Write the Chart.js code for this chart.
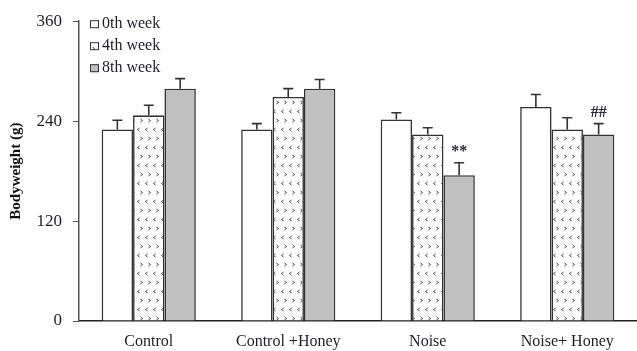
<!DOCTYPE html>
<html>
<head>
<meta charset="utf-8">
<script src="https://cdn.jsdelivr.net/npm/chart.js@4/dist/chart.umd.min.js"></script>
<style>
html,body{margin:0;padding:0;background:#fff;}
#wrap{width:637px;height:351px;}
</style>
</head>
<body>
<div id="wrap"><canvas id="c" width="637" height="351"></canvas></div>
<script>
const categories = ["Control", "Control +Honey", "Noise", "Noise+ Honey"];
const seriesNames = ["0th week", "4th week", "8th week"];
const week0 = [230, 230, 242, 257];
const week4 = [247, 269, 224, 230];
const week8 = [279, 279, 175, 224];
const err0 = [11, 7, 8, 15];
const err4 = [12, 10, 8, 14];
const err8 = [12, 11, 15, 13];
const yTicks = [0, 120, 240, 360];
const yTitle = "Bodyweight (g)";
// annotations: [datasetIndex, categoryIndex, text]
const marks = [[2, 2, "**"], [2, 3, "##"]];

const FONT = "'Liberation Serif', 'Times New Roman', serif";
const INK = "#1e1e2a";

function makePattern() {
  const t = document.createElement('canvas');
  t.width = 8; t.height = 18;
  const g = t.getContext('2d');
  g.fillStyle = '#fff';
  g.fillRect(0, 0, 8, 18);
  g.strokeStyle = '#444';
  g.lineWidth = 1;
  g.beginPath();
  // "<"
  g.moveTo(3.5, 2); g.lineTo(1.5, 3.5); g.lineTo(3.5, 5);
  // ">"
  g.moveTo(4.5, 11); g.lineTo(6.5, 12.5); g.lineTo(4.5, 14);
  g.stroke();
  return document.getElementById('c').getContext('2d').createPattern(t, 'repeat');
}
const pat = makePattern();
const fills = ['#ffffff', pat, '#c0c0c0'];
const errs = [err0, err4, err8];

const errorBars = {
  id: 'errorBars',
  afterDatasetsDraw(chart) {
    const ctx = chart.ctx;
    const y = chart.scales.y;
    ctx.save();
    ctx.strokeStyle = '#333';
    ctx.lineWidth = 1.6;
    chart.data.datasets.forEach((ds, di) => {
      const meta = chart.getDatasetMeta(di);
      meta.data.forEach((bar, i) => {
        const top = y.getPixelForValue(ds.data[i] + errs[di][i]);
        ctx.beginPath();
        ctx.moveTo(bar.x, bar.y);
        ctx.lineTo(bar.x, top);
        ctx.moveTo(bar.x - 5, top);
        ctx.lineTo(bar.x + 5, top);
        ctx.stroke();
      });
    });
    ctx.fillStyle = '#2a2a3a';
    ctx.font = "bold 16px " + FONT;
    ctx.textAlign = 'center';
    ctx.textBaseline = 'alphabetic';
    marks.forEach(([di, ci, txt]) => {
      const bar = chart.getDatasetMeta(di).data[ci];
      const top = y.getPixelForValue(chart.data.datasets[di].data[ci] + errs[di][ci]);
      ctx.fillText(txt, bar.x, top - 7);
    });
    ctx.restore();
  }
};

const legendBox = {
  id: 'legendBox',
  afterDraw(chart) {
    const ctx = chart.ctx;
    const a = chart.chartArea;
    ctx.save();
    ctx.font = "16px " + FONT;
    ctx.textBaseline = 'middle';
    ctx.textAlign = 'left';
    seriesNames.forEach((n, i) => {
      const cy = a.top + 3 + i * 22;
      const bx = a.left + 11;
      ctx.fillStyle = fills[i];
      ctx.fillRect(bx, cy - 4, 9, 8);
      ctx.strokeStyle = '#333';
      ctx.lineWidth = 1;
      ctx.strokeRect(bx + 0.5, cy - 3.5, 8, 7);
      ctx.fillStyle = INK;
      ctx.fillText(n, bx + 12, cy);
    });
    ctx.restore();
  }
};

new Chart(document.getElementById('c'), {
  type: 'bar',
  data: {
    labels: categories,
    datasets: [week0, week4, week8].map((d, i) => ({
      label: seriesNames[i],
      data: d,
      backgroundColor: fills[i],
      borderColor: '#333',
      borderWidth: 1.6,
      borderSkipped: 'bottom',
      categoryPercentage: 0.675,
      barPercentage: 1.0
    }))
  },
  options: {
    responsive: false,
    animation: false,
    devicePixelRatio: 1,
    layout: { padding: { top: 7, right: 0, left: 0, bottom: 0 } },
    plugins: { legend: { display: false }, tooltip: { enabled: false } },
    scales: {
      x: {
        grid: { display: false },
        border: { display: true, color: '#222', width: 1.5 },
        ticks: { color: INK, font: { family: FONT, size: 16 }, padding: 3, maxRotation: 0 },
        afterFit(s) { s.height = 30; }
      },
      y: {
        min: 0, max: 360,
        afterBuildTicks(s) { s.ticks = yTicks.map(v => ({ value: v })); },
        grid: { drawOnChartArea: false, drawTicks: true, tickLength: 6, color: '#555' },
        border: { display: true, color: '#555', width: 1.5 },
        ticks: { color: INK, font: { family: FONT, size: 17 }, padding: 11 },
        title: { display: true, text: yTitle, color: '#111', font: { family: FONT, size: 15, weight: 'bold' }, padding: { top: 7, bottom: 0 } },
        afterFit(s) { s.width = 79; }
      }
    }
  },
  plugins: [errorBars, legendBox]
});
</script>
</body>
</html>
